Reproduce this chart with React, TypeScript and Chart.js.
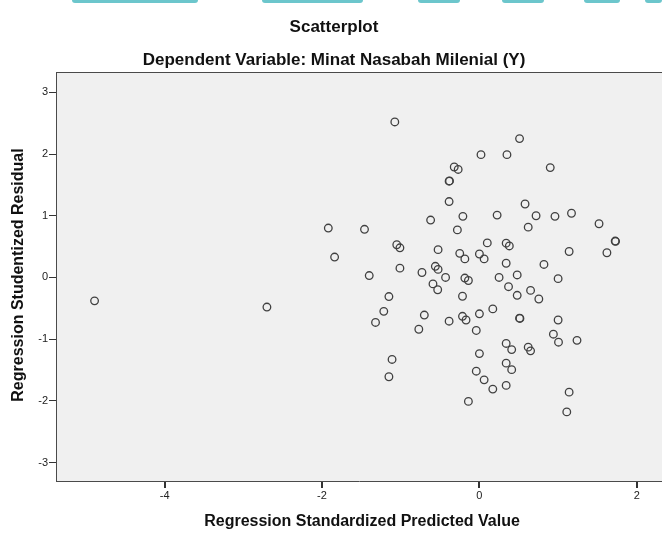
import React, { useEffect, useRef } from "react";
import { Chart, registerables } from "chart.js";

Chart.register(...registerables);

const TITLE = "Scatterplot";
const SUBTITLE = "Dependent Variable: Minat Nasabah Milenial (Y)";
const X_TITLE = "Regression Standardized Predicted Value";
const Y_TITLE = "Regression Studentized Residual";

const xTicks = [-4, -2, 0, 2];
const yTicks = [-3, -2, -1, 0, 1, 2, 3];

const predicted = [
  -4.89, -2.70, -1.92, -1.84, -1.46, -1.40, -1.32, -1.215, -1.15, -1.11,
  -1.15, -1.075, -1.05, -1.01, -1.01, -0.77, -0.73, -0.70, -0.62, -0.59,
  -0.56, -0.525, -0.53, -0.525, -0.43, -0.385, -0.38, -0.385, -0.385, -0.32,
  -0.27, -0.28, -0.25, -0.185, -0.215, -0.215, -0.17, -0.21, -0.185, -0.14,
  -0.14, 0.02, 0.0, 0.06, 0.10, 0.0, -0.04, 0.0, -0.04, 0.06,
  0.17, 0.17, 0.225, 0.25, 0.35, 0.34, 0.38, 0.34, 0.37, 0.34,
  0.41, 0.34, 0.41, 0.34, 0.48, 0.48, 0.51, 0.51, 0.515, 0.58,
  0.62, 0.65, 0.62, 0.65, 0.72, 0.755, 0.82, 0.90, 0.96, 0.94,
  1.0, 1.0, 1.005, 1.17, 1.14, 1.24, 1.14, 1.11, 1.52, 1.62,
  1.725, 1.73,
];

const residual = [
  -0.38, -0.48, 0.80, 0.33, 0.78, 0.03, -0.73, -0.55, -0.31, -1.33,
  -1.61, 2.52, 0.53, 0.48, 0.15, -0.84, 0.08, -0.61, 0.93, -0.105,
  0.18, 0.13, -0.20, 0.45, 0.0, 1.56, 1.565, 1.23, -0.71, 1.79,
  1.75, 0.77, 0.39, 0.30, -0.305, -0.63, -0.69, 0.99, -0.01, -0.05,
  -2.01, 1.99, 0.38, 0.30, 0.56, -0.59, -0.86, -1.235, -1.52, -1.66,
  -0.51, -1.81, 1.01, 0.0, 1.99, 0.555, 0.51, 0.23, -0.15, -1.07,
  -1.17, -1.39, -1.495, -1.75, 0.04, -0.29, 2.25, -0.66, -0.665, 1.19,
  0.815, -0.21, -1.13, -1.19, 1.00, -0.35, 0.21, 1.78, 0.99, -0.92,
  -0.02, -0.69, -1.05, 1.04, 0.42, -1.02, -1.86, -2.18, 0.87, 0.40,
  0.59, 0.585,
];

const FONT = "'Liberation Sans', Arial, sans-serif";

const framePlugin = {
  id: "spssFrame",
  beforeDraw(chart: any) {
    const { ctx, chartArea } = chart;
    ctx.save();
    ctx.fillStyle = "#f0f0f0";
    ctx.fillRect(chartArea.left, chartArea.top, chartArea.right - chartArea.left, chartArea.bottom - chartArea.top);
    ctx.restore();
  },
  afterDraw(chart: any) {
    const { ctx, chartArea } = chart;
    ctx.save();
    ctx.strokeStyle = "#4a4a4a";
    ctx.lineWidth = 1;
    ctx.beginPath();
    ctx.moveTo(chartArea.left, chartArea.top + 0.5);
    ctx.lineTo(chartArea.right, chartArea.top + 0.5);
    ctx.stroke();

    ctx.fillStyle = "#111";
    ctx.textAlign = "center";
    ctx.textBaseline = "middle";
    ctx.font = `bold 17px ${FONT}`;
    ctx.fillText(TITLE, 334, 27);
    ctx.fillText(SUBTITLE, 334, 60);
    ctx.font = `bold 16px ${FONT}`;
    ctx.fillText(X_TITLE, 362, 522);
    ctx.translate(19, 275);
    ctx.rotate(-Math.PI / 2);
    ctx.fillText(Y_TITLE, 0, 0);
    ctx.restore();
  },
};

export default function App() {
  const ref = useRef<HTMLCanvasElement | null>(null);

  useEffect(() => {
    if (!ref.current) return;
    const points = predicted.map((x, i) => ({ x, y: residual[i] }));
    const chart = new Chart(ref.current, {
      type: "scatter",
      data: {
        datasets: [
          {
            data: points,
            pointRadius: 3.8,
            pointHoverRadius: 3.8,
            pointBorderWidth: 1.3,
            pointBorderColor: "#404040",
            pointBackgroundColor: "rgba(0,0,0,0)",
            showLine: false,
          },
        ],
      },
      options: {
        responsive: false,
        maintainAspectRatio: false,
        devicePixelRatio: 1,
        animation: false,
        layout: { autoPadding: false, padding: { left: 0, right: 0, top: 72, bottom: 0 } },
        plugins: {
          legend: { display: false },
          title: { display: false },
          tooltip: { enabled: false },
        },
        scales: {
          x: {
            type: "linear",
            min: -5.38,
            max: 2.32,
            afterBuildTicks: (s: any) => {
              s.ticks = xTicks.map((v) => ({ value: v }));
            },
            afterFit: (s: any) => {
              s.height = 54;
              s.paddingLeft = 0;
              s.paddingRight = 0;
            },
            grid: { drawOnChartArea: false, drawTicks: true, tickLength: 7, color: "#333", lineWidth: 2 },
            border: { display: true, color: "#4a4a4a", width: 1 },
            ticks: { color: "#222", font: { family: FONT, size: 11 }, padding: 1, maxRotation: 0 },
          },
          y: {
            type: "linear",
            min: -3.3,
            max: 3.33,
            afterBuildTicks: (s: any) => {
              s.ticks = yTicks.map((v) => ({ value: v }));
            },
            afterFit: (s: any) => {
              s.width = 56;
              s.paddingTop = 0;
              s.paddingBottom = 0;
            },
            grid: { drawOnChartArea: false, drawTicks: true, tickLength: 7, color: "#333", lineWidth: 1 },
            border: { display: true, color: "#4a4a4a", width: 1 },
            ticks: { color: "#222", font: { family: FONT, size: 11 }, padding: 1 },
          },
        },
      },
      plugins: [framePlugin],
    });
    return () => chart.destroy();
  }, []);

  const teal = [
    [72, 126],
    [262, 101],
    [418, 42],
    [502, 42],
    [584, 36],
    [645, 17],
  ];

  return (
    <div style={{ position: "fixed", left: 0, top: 0, width: 662, height: 535, background: "#fff", overflow: "hidden" }}>
      {teal.map(([l, w], i) => (
        <div
          key={i}
          style={{ position: "absolute", left: l, top: -3, width: w, height: 6, borderRadius: 4, background: "#6cc6cc" }}
        />
      ))}
      <canvas ref={ref} width={662} height={535} style={{ display: "block", width: 662, height: 535 }} />
    </div>
  );
}
